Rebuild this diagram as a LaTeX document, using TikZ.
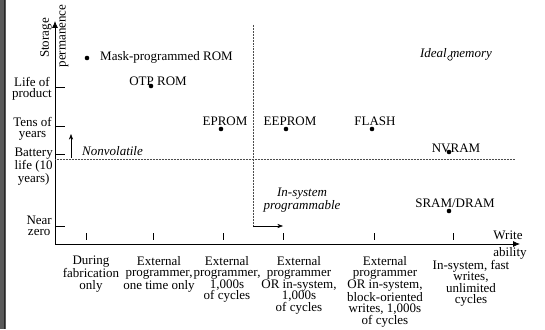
\documentclass[tikz,border=0pt]{standalone}
\usepackage{fontspec}
\setmainfont{Liberation Serif}
\usetikzlibrary{arrows.meta}

\tikzset{
  txt/.style={font=\fontsize{13}{11.5}\selectfont, inner sep=0pt, align=center},
  ittxt/.style={txt, font=\fontsize{13}{11.5}\selectfont\itshape},
  dot/.style={circle, fill, inner sep=0pt, minimum size=4.6pt},
  opendot/.style={circle, draw, fill=white, inner sep=0pt, minimum size=4.6pt, line width=.6pt},
  sep/.style={densely dotted, line width=.5pt, black!70}
}

\begin{document}
\begin{tikzpicture}[x=1pt,y=-1pt,>=Stealth]
	\useasboundingbox (0,0) rectangle (545,329);
	\fill[black!65] (0,0) rectangle (6,329);
	\draw[black!85, line width=1pt] (4,0)--(4,329);

	% axes
	\coordinate (origin) at (55,244);
	\coordinate (ytop) at (55,21);
	\coordinate (xend) at (520,244);
	\draw[line width=.8pt,-{Latex[length=7pt,width=6pt]}] (origin)--(ytop);
	\draw[line width=.8pt,-{Latex[length=7pt,width=6pt]}] (origin)--(xend);
	\node[txt, rotate=90] (ylab1) at (46,38) {Storage};
	\node[txt, rotate=90] (ylab2) at (64,36) {permanence};
	\node[txt] (wr) at (508,235) {Write};
	\node[txt] (ab) at (510,253) {ability};

	% ticks on the storage axis
	\foreach \y in {87,126,154,226}
		\draw[line width=.7pt] (55,\y)--(65,\y);
	\node[txt, anchor=east] (lp) at (52,89) {Life of\\product};
	\node[txt, anchor=east] (ty) at (52,129) {Tens of\\years};
	\node[txt, anchor=east] (bl) at (53,167) {Battery\\life (10\\years)};
	\node[txt, anchor=east] (nz) at (52,226) {Near\\zero};

	% ticks on the write axis
	\foreach \x in {86,153,223,283,374,453}
		\draw[line width=.7pt] (\x,233)--(\x,240);
	\node[txt, anchor=north] (w1) at (91,256) {During\\fabrication\\only};
	\node[txt, anchor=north] (w2) at (159,256) {External\\programmer,\\one time only};
	\node[txt, anchor=north] (w3) at (227,256) {External\\programmer,\\1,000s\\of cycles};
	\node[txt, anchor=north] (w4) at (299,256) {External\\programmer\\OR in-system,\\1,000s\\of cycles};
	\node[txt, anchor=north] (w5) at (385,256) {External\\programmer\\OR in-system,\\block-oriented\\writes, 1,000s\\of cycles};
	\node[txt, anchor=north] (w6) at (471,260) {In-system, fast\\writes,\\unlimited\\cycles};

	% separators
	\coordinate (nvl) at (55,159);
	\coordinate (nvr) at (515,159);
	\coordinate (ist) at (253,25);
	\coordinate (isb) at (253,226);
	\coordinate (ise) at (283,226);
	\draw[sep] (nvl)--(nvr);
	\draw[sep] (ist)--(isb);
	\draw[->, line width=.6pt] (isb)--(ise);
	\coordinate (nvb) at (71,158);
	\coordinate (nvt) at (71,134);
	\draw[->, line width=.6pt] (nvb)--(nvt);
	\node[ittxt, anchor=west] (nonvol) at (82,151) {Nonvolatile};
	\node[ittxt] (insys) at (302,200) {In-system\\programmable};

	% memories
	\node[dot] (mask) at (87,58) {};
	\node[txt, anchor=west] (maskl) at (100,57) {Mask-programmed ROM};
	\node[txt] (otpl) at (158,81) {OTP ROM};
	\node[dot] (otp) at (151,86) {};
	\node[txt] (epl) at (225,121) {EPROM};
	\node[dot] (ep) at (221,129) {};
	\node[txt] (eepl) at (290,121) {EEPROM};
	\node[dot] (eep) at (286,129) {};
	\node[txt] (fll) at (375,121) {FLASH};
	\node[dot] (fl) at (372,129) {};
	\node[txt] (nvrl) at (456,148) {NVRAM};
	\node[dot] (nv) at (449,152) {};
	\node[txt] (srl) at (455,203) {SRAM/DRAM};
	\node[dot] (sr) at (449,211) {};
	\node[ittxt] (idl) at (456,54) {Ideal memory};
	\node[opendot] (id) at (450,58) {};
\end{tikzpicture}
\end{document}
